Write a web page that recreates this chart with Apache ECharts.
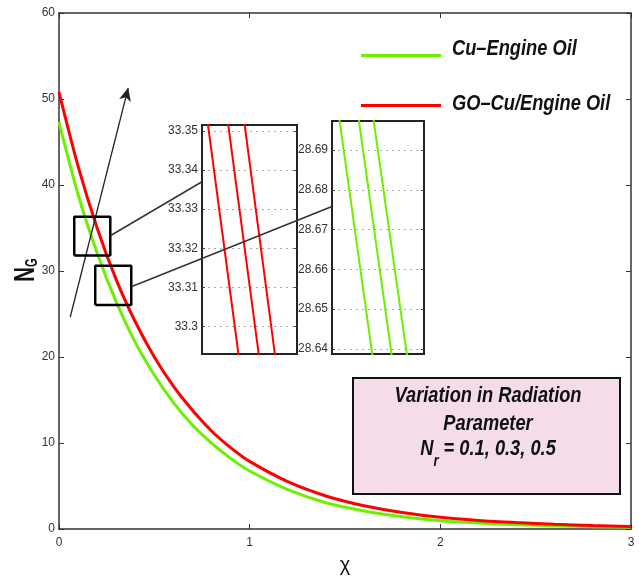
<!DOCTYPE html>
<html>
<head>
<meta charset="utf-8">
<script src="https://cdn.jsdelivr.net/npm/echarts@6/dist/echarts.min.js"></script>
<style>
html, body { margin: 0; padding: 0; background: #ffffff; }
#chart { width: 639px; height: 576px; }
</style>
</head>
<body>
<div id="chart"></div>
<script>
// Entropy generation N_G against chi for the two nanofluids
const chi = [0, 0.1, 0.2, 0.3, 0.4, 0.5, 0.6, 0.7, 0.8, 0.9, 1.0, 1.2, 1.4, 1.6, 1.8, 2.0, 2.2, 2.4, 2.6, 2.8, 3.0];
const ngCuOil = [47.3, 38.9, 32.1, 26.4, 21.7, 17.9, 14.7, 12.1, 9.98, 8.21, 6.74, 4.58, 3.05, 2.10, 1.43, 0.97, 0.70, 0.50, 0.36, 0.26, 0.19];
const ngGoCuOil = [50.8, 42.2, 35.0, 29.0, 24.1, 20.0, 16.6, 13.8, 11.4, 9.47, 7.86, 5.50, 3.84, 2.70, 1.92, 1.36, 1.00, 0.75, 0.55, 0.40, 0.28];

// Magnified views: three radiation parameters, each line given by its chi at the upper and lower N_G level
const radiationLabels = ['Nr = 0.1', 'Nr = 0.3', 'Nr = 0.5'];
const redZoomLevels = [33.36, 33.29];
const redZoomChiTop = [0.22505, 0.22569, 0.22621];
const redZoomChiBottom = [0.22620, 0.22684, 0.22735];
const redZoomTicks = [33.30, 33.31, 33.32, 33.33, 33.34, 33.35];
const greenZoomLevels = [28.70, 28.63];
const greenZoomChiTop = [0.25520, 0.25583, 0.25631];
const greenZoomChiBottom = [0.25647, 0.25710, 0.25760];
const greenZoomTicks = [28.64, 28.65, 28.66, 28.67, 28.68, 28.69];

// Windows marked on the main curves: [chiMin, chiMax, ngMin, ngMax]
const zoomWindows = [[0.080, 0.269, 31.8, 36.3], [0.190, 0.379, 26.05, 30.6]];
// Trend arrow for increasing Nr
const arrowFrom = [0.059, 24.65];
const arrowTo = [0.363, 51.3];
// Leader lines: point on each window edge -> point on the magnified panel edge
const leaderStart = [[0.269, 34.1], [0.379, 28.17]];
const leaderEndNg = [33.337, 28.6758];

const seriesNames = ['Cu\u2013Engine Oil', 'GO\u2013Cu/Engine Oil'];
const GREEN = '#6cf000';
const RED = '#ff0000';
const FONT = "'Liberation Sans', Arial, sans-serif";
const AX = '#333333';
const NARROW = 0.83;

const chart = echarts.init(document.getElementById('chart'), null, { renderer: 'canvas' });

function zip(xs, ys) { return xs.map((x, i) => [x, ys[i]]); }

const series = [
  {
    name: seriesNames[0], type: 'line', xAxisIndex: 0, yAxisIndex: 0,
    data: zip(chi, ngCuOil), smooth: 0.3, showSymbol: false, z: 3,
    itemStyle: { color: GREEN }, lineStyle: { color: GREEN, width: 3 }
  },
  {
    name: seriesNames[1], type: 'line', xAxisIndex: 0, yAxisIndex: 0,
    data: zip(chi, ngGoCuOil), smooth: 0.3, showSymbol: false, z: 4,
    itemStyle: { color: RED }, lineStyle: { color: RED, width: 3 }
  }
];

zoomWindows.forEach((w, i) => {
  series.push({
    name: 'window' + i, type: 'line', xAxisIndex: 0, yAxisIndex: 0, silent: true,
    data: [[w[0], w[2]], [w[1], w[2]], [w[1], w[3]], [w[0], w[3]], [w[0], w[2]]],
    showSymbol: false, z: 6, lineStyle: { color: '#000', width: 2.5 }, itemStyle: { color: '#000' }
  });
});

series.push({
  name: 'arrow', type: 'line', xAxisIndex: 0, yAxisIndex: 0, data: [], silent: true,
  markLine: {
    silent: true, symbol: ['none', 'arrow'], symbolSize: [9, 13],
    label: { show: false }, emphasis: { disabled: true },
    lineStyle: { color: '#222', width: 1.3, type: 'solid' },
    data: [[{ coord: arrowFrom }, { coord: arrowTo }]]
  }
});

radiationLabels.forEach((lbl, i) => {
  series.push({
    name: 'GO ' + lbl, type: 'line', xAxisIndex: 2, yAxisIndex: 2, silent: true, z: 12,
    data: [[redZoomChiTop[i], redZoomLevels[0]], [redZoomChiBottom[i], redZoomLevels[1]]],
    showSymbol: false, clip: true, lineStyle: { color: RED, width: 2 }, itemStyle: { color: RED }
  });
  series.push({
    name: 'Cu ' + lbl, type: 'line', xAxisIndex: 3, yAxisIndex: 4, silent: true, z: 12,
    data: [[greenZoomChiTop[i], greenZoomLevels[0]], [greenZoomChiBottom[i], greenZoomLevels[1]]],
    showSymbol: false, clip: true, lineStyle: { color: GREEN, width: 2 }, itemStyle: { color: GREEN }
  });
});

function insetY(grid, min, max, ticks, pos, labels) {
  return {
    gridIndex: grid, type: 'value', min: min, max: max, position: pos,
    axisLine: { show: false, onZero: false },
    axisTick: { show: true, inside: true, length: 3, customValues: ticks, lineStyle: { color: '#444' } },
    axisLabel: { show: labels, customValues: ticks, margin: 4, fontSize: 12, color: AX, fontFamily: FONT },
    splitLine: { show: labels, lineStyle: { type: [2, 4], color: '#aaaaaa', width: 1 } }
  };
}

const mainTick = { inside: true, length: 5, lineStyle: { color: AX } };
const mainLine = { onZero: false, lineStyle: { color: AX, width: 1.5 } };

const option = {
  backgroundColor: '#ffffff',
  animation: false,
  grid: [
    { left: 59, right: 8, top: 13, bottom: 47, show: false, outerBoundsMode: 'none' },
    { left: 202, top: 125, width: 95, height: 229, show: true, backgroundColor: '#ffffff', borderColor: '#222', borderWidth: 2, outerBoundsMode: 'none' },
    { left: 332, top: 121, width: 92, height: 233, show: true, backgroundColor: '#ffffff', borderColor: '#222', borderWidth: 2, outerBoundsMode: 'none' }
  ],
  legend: {
    data: seriesNames, orient: 'vertical', left: 356, top: 49,
    itemWidth: 80, itemHeight: 3, itemGap: 47, icon: 'rect',
    formatter: function () { return ''; },
    textStyle: { fontSize: 1 }
  },
  xAxis: [
    {
      gridIndex: 0, type: 'value', min: 0, max: 3, interval: 1, position: 'bottom',
      name: '\u03c7', nameLocation: 'middle', nameGap: 26,
      nameTextStyle: { fontSize: 20, color: '#111', fontFamily: FONT },
      axisLine: mainLine, axisTick: mainTick,
      axisLabel: { margin: 8, fontSize: 12, color: AX, fontFamily: FONT },
      splitLine: { show: false }
    },
    {
      gridIndex: 0, type: 'value', min: 0, max: 3, interval: 1, position: 'top',
      axisLine: mainLine, axisTick: mainTick,
      axisLabel: { show: false }, splitLine: { show: false }
    },
    { gridIndex: 1, type: 'value', min: 0.2250, max: 0.2280, show: false },
    { gridIndex: 2, type: 'value', min: 0.2550, max: 0.2580, show: false }
  ],
  yAxis: [
    {
      gridIndex: 0, type: 'value', min: 0, max: 60, interval: 10, position: 'left',
      axisLine: mainLine, axisTick: mainTick,
      axisLabel: { margin: 4, fontSize: 12, color: AX, fontFamily: FONT },
      splitLine: { show: false }
    },
    {
      gridIndex: 0, type: 'value', min: 0, max: 60, interval: 10, position: 'right',
      axisLine: mainLine, axisTick: mainTick,
      axisLabel: { show: false }, splitLine: { show: false }
    },
    insetY(1, 33.293, 33.3515, redZoomTicks, 'left', true),
    insetY(1, 33.293, 33.3515, redZoomTicks, 'right', false),
    insetY(2, 28.6387, 28.6973, greenZoomTicks, 'left', true),
    insetY(2, 28.6387, 28.6973, greenZoomTicks, 'right', false)
  ],
  series: series
};

chart.setOption(option);

// Leader lines joining each window on the curves to its magnified panel
const insetGrid = [{ grid: 1, chiMin: 0.2250 }, { grid: 2, chiMin: 0.2550 }];
const leaders = leaderStart.map((p, i) => {
  const a = chart.convertToPixel({ gridIndex: 0 }, p);
  const b = chart.convertToPixel({ gridIndex: insetGrid[i].grid }, [insetGrid[i].chiMin, leaderEndNg[i]]);
  return {
    type: 'line', z: 100, silent: true,
    shape: { x1: a[0], y1: a[1], x2: b[0], y2: b[1] },
    style: { stroke: '#333', lineWidth: 1.5 }
  };
});

const boldItalic = { fontFamily: FONT, fontWeight: 'bold', fontStyle: 'italic', fontSize: 22, fill: '#111' };

// Legend captions, set beside the legend line icons
const captionY = [49, 104];
const captions = seriesNames.map((name, i) => ({
  type: 'text', z: 60, silent: true, x: 452, y: captionY[i], scaleX: NARROW,
  style: Object.assign({ text: name, align: 'left', verticalAlign: 'middle' }, boldItalic)
}));

// Vertical axis title N_G, reading upwards
const yTitle = {
  type: 'text', z: 60, silent: true, x: 26, y: 270, rotation: Math.PI / 2, scaleX: 0.85, scaleY: 1.2,
  style: {
    text: '{n|N}{s|G}', align: 'center', verticalAlign: 'middle',
    rich: {
      n: { fontFamily: FONT, fontWeight: 'bold', fontSize: 24, fill: '#111' },
      s: { fontFamily: FONT, fontWeight: 'bold', fontSize: 13, fill: '#111', padding: [12, 0, 0, 0] }
    }
  }
};

chart.setOption({
  graphic: leaders.concat(captions, [yTitle], [
    {
      type: 'rect', z: 50, silent: true,
      shape: { x: 353, y: 378, width: 267, height: 116 },
      style: { fill: '#f4dcea', stroke: '#111', lineWidth: 2 }
    },
    {
      type: 'text', z: 51, silent: true, x: 488, y: 396, scaleX: NARROW,
      style: Object.assign({ text: 'Variation in Radiation', align: 'center', verticalAlign: 'middle' }, boldItalic)
    },
    {
      type: 'text', z: 51, silent: true, x: 488, y: 424, scaleX: NARROW,
      style: Object.assign({ text: 'Parameter', align: 'center', verticalAlign: 'middle' }, boldItalic)
    },
    {
      type: 'text', z: 51, silent: true, x: 488, y: 449, scaleX: NARROW,
      style: {
        text: '{n|N}{s|r}{n| = 0.1, 0.3, 0.5}', align: 'center', verticalAlign: 'middle',
        rich: {
          n: Object.assign({}, boldItalic),
          s: Object.assign({}, boldItalic, { fontSize: 16, padding: [26, 0, 0, 0] })
        }
      }
    }
  ])
});
</script>
</body>
</html>
